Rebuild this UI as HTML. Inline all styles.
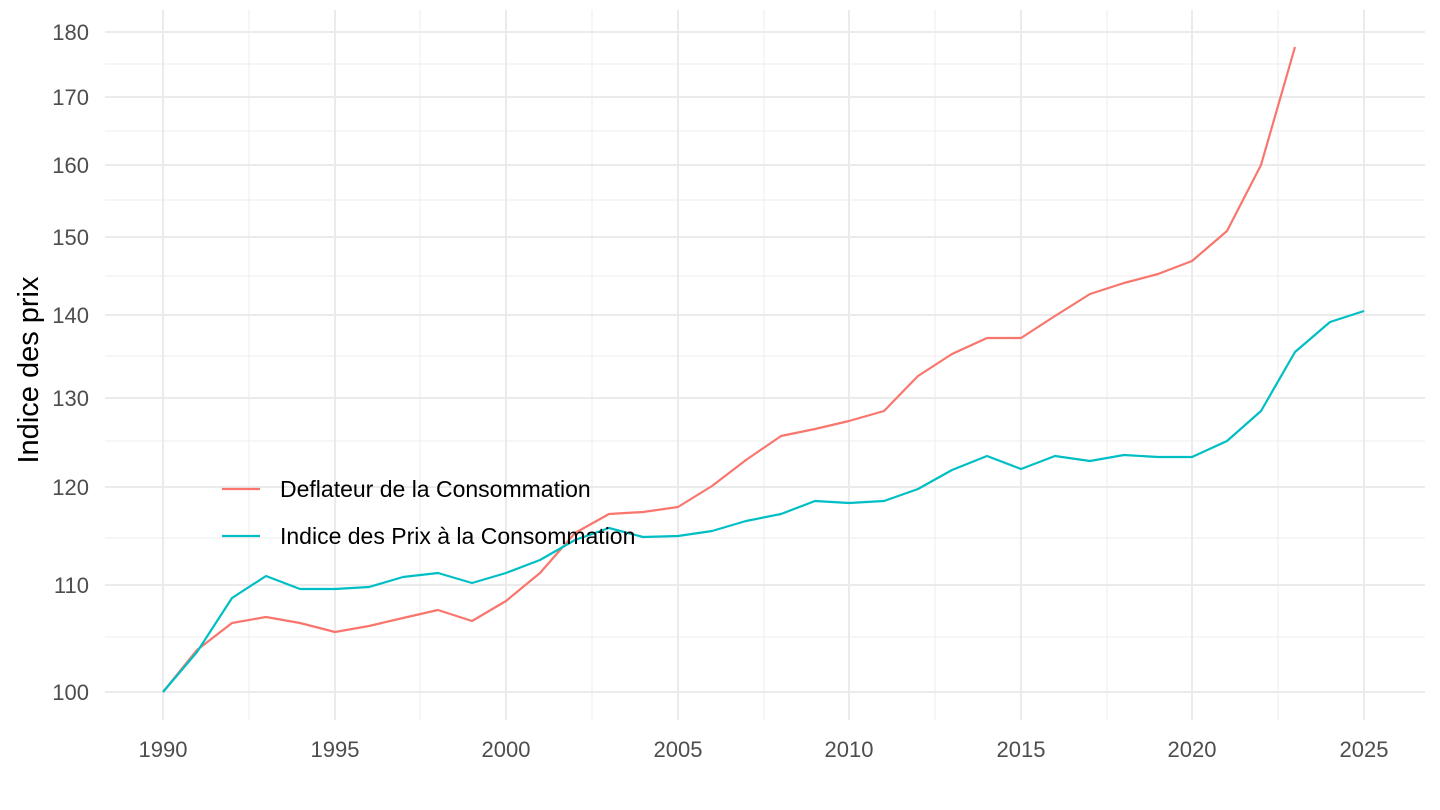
<!DOCTYPE html>
<html><head><meta charset="utf-8"><style>
html,body{margin:0;padding:0;background:#fff;}
svg{display:block;font-family:"Liberation Sans",Arial,sans-serif;}
</style></head><body>
<svg width="1440" height="810" viewBox="0 0 1440 810">
<g stroke="#ececec" stroke-width="1">
<line x1="105" x2="1425" y1="637" y2="637"/>
<line x1="105" x2="1425" y1="538" y2="538"/>
<line x1="105" x2="1425" y1="441" y2="441"/>
<line x1="105" x2="1425" y1="356" y2="356"/>
<line x1="105" x2="1425" y1="276" y2="276"/>
<line x1="105" x2="1425" y1="200" y2="200"/>
<line x1="105" x2="1425" y1="131" y2="131"/>
<line x1="105" x2="1425" y1="64" y2="64"/>
<line y1="10" y2="720" x1="249" x2="249"/>
<line y1="10" y2="720" x1="420" x2="420"/>
<line y1="10" y2="720" x1="592" x2="592"/>
<line y1="10" y2="720" x1="764" x2="764"/>
<line y1="10" y2="720" x1="935" x2="935"/>
<line y1="10" y2="720" x1="1107" x2="1107"/>
<line y1="10" y2="720" x1="1278" x2="1278"/>
</g>
<g stroke="#ebebeb" stroke-width="2">
<line x1="105" x2="1425" y1="692" y2="692"/>
<line x1="105" x2="1425" y1="585" y2="585"/>
<line x1="105" x2="1425" y1="487" y2="487"/>
<line x1="105" x2="1425" y1="398" y2="398"/>
<line x1="105" x2="1425" y1="315" y2="315"/>
<line x1="105" x2="1425" y1="237" y2="237"/>
<line x1="105" x2="1425" y1="165" y2="165"/>
<line x1="105" x2="1425" y1="97" y2="97"/>
<line x1="105" x2="1425" y1="32" y2="32"/>
<line y1="10" y2="720" x1="163" x2="163"/>
<line y1="10" y2="720" x1="335" x2="335"/>
<line y1="10" y2="720" x1="506" x2="506"/>
<line y1="10" y2="720" x1="678" x2="678"/>
<line y1="10" y2="720" x1="849" x2="849"/>
<line y1="10" y2="720" x1="1021" x2="1021"/>
<line y1="10" y2="720" x1="1192" x2="1192"/>
<line y1="10" y2="720" x1="1364" x2="1364"/>
</g>
<g font-size="22" fill="#4d4d4d" text-anchor="end">
<text x="89" y="700">100</text><text x="89" y="593">110</text><text x="89" y="495">120</text>
<text x="89" y="406">130</text><text x="89" y="323">140</text><text x="89" y="245">150</text>
<text x="89" y="173">160</text><text x="89" y="105">170</text><text x="89" y="40">180</text>
</g>
<g font-size="22" fill="#4d4d4d" text-anchor="middle">
<text x="163" y="757">1990</text><text x="335" y="757">1995</text><text x="506" y="757">2000</text>
<text x="678" y="757">2005</text><text x="849" y="757">2010</text><text x="1021" y="757">2015</text>
<text x="1192" y="757">2020</text><text x="1364" y="757">2025</text>
</g>
<text transform="translate(38,370) rotate(-90)" font-size="29" text-anchor="middle" fill="#000">Indice des prix</text>
<g fill="none" stroke-width="2.2" stroke-linejoin="round">
<polyline stroke="#F8766D" points="163,692 197,650 232,623 266,617 300,623 335,632 369,626 403,618 438,610 472,621 506,601 540,573 575,533 609,514 643,512 678,507 712,486 746,460 781,436 815,429 849,421 884,411 918,376 952,354 987,338 1021,338 1055,316 1090,294 1124,283 1158,274 1192,261 1227,231 1261,165 1295,47"/>
<polyline stroke="#00BFC4" points="163,692 197,652 232,598 266,576 300,589 335,589 369,587 403,577 438,573 472,583 506,573 540,560 575,540 609,528 643,537 678,536 712,531 746,521 781,514 815,501 849,503 884,501 918,489 952,470 987,456 1021,469 1055,456 1090,461 1124,455 1158,457 1192,457 1227,441 1261,411 1295,352 1330,322 1364,311"/>
</g>
<line x1="222" x2="260" y1="489" y2="489" stroke="#F8766D" stroke-width="2.2"/>
<line x1="222" x2="260" y1="536" y2="536" stroke="#00BFC4" stroke-width="2.2"/>
<g font-size="23" fill="#000">
<text x="280" y="497">Deflateur de la Consommation</text>
<text x="280" y="544">Indice des Prix à la Consommation</text>
</g>
</svg>
</body></html>
